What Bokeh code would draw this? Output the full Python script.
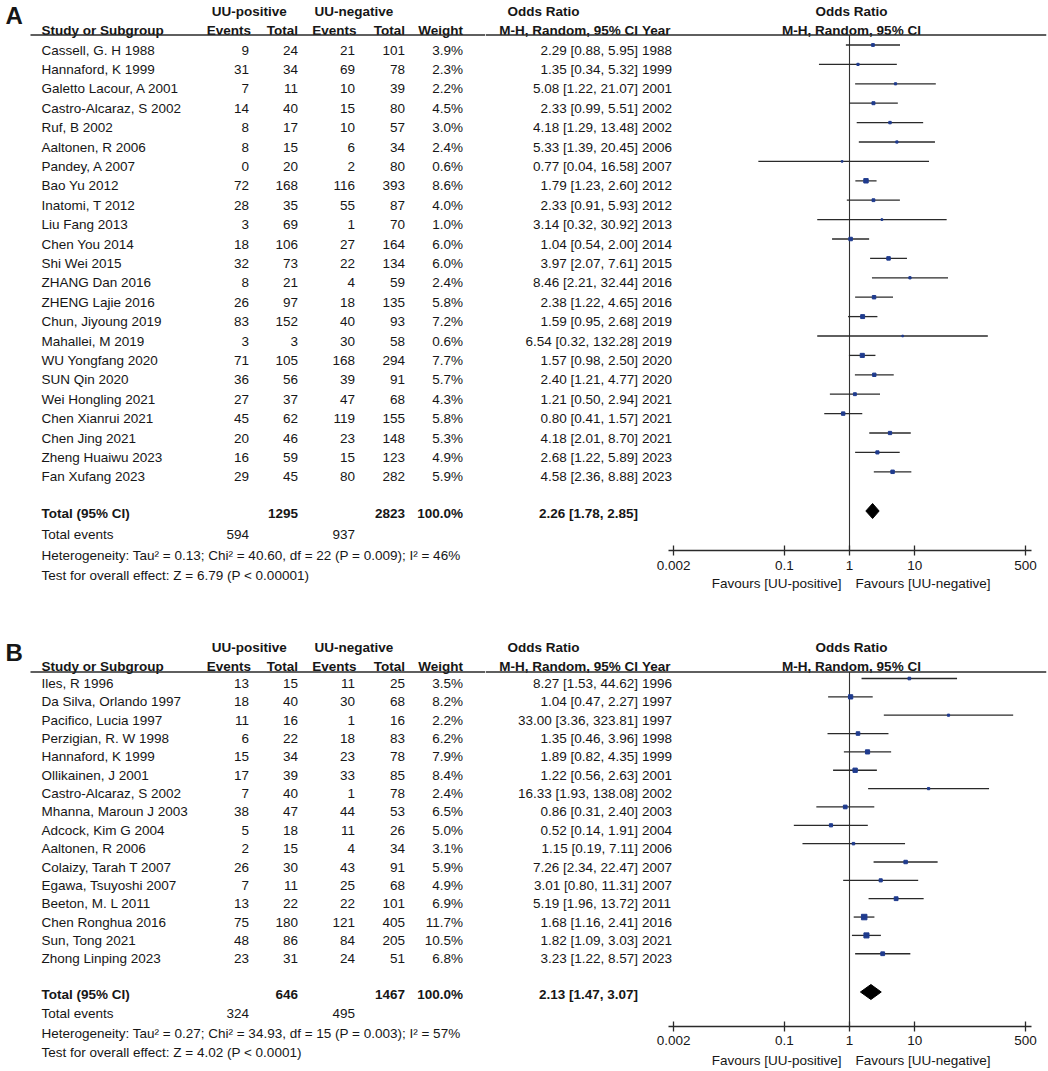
from bokeh.plotting import figure
from bokeh.models import Range1d, Span, FixedTicker, CustomJSTickFormatter, ColumnDataSource
from bokeh.layouts import row, column
from bokeh.embed import file_html
from bokeh.resources import INLINE
from bokeh.core.properties import value

# ---------------- data: panel A ----------------
studies_a = ["Cassell, G. H 1988", "Hannaford, K 1999", "Galetto Lacour, A 2001", "Castro-Alcaraz, S 2002",
             "Ruf, B 2002", "Aaltonen, R 2006", "Pandey, A 2007", "Bao Yu 2012", "Inatomi, T 2012",
             "Liu Fang 2013", "Chen You 2014", "Shi Wei 2015", "ZHANG Dan 2016", "ZHENG Lajie 2016",
             "Chun, Jiyoung 2019", "Mahallei, M 2019", "WU Yongfang 2020", "SUN Qin 2020",
             "Wei Hongling 2021", "Chen Xianrui 2021", "Chen Jing 2021", "Zheng Huaiwu 2023", "Fan Xufang 2023"]
pos_events_a = [9, 31, 7, 14, 8, 8, 0, 72, 28, 3, 18, 32, 8, 26, 83, 3, 71, 36, 27, 45, 20, 16, 29]
pos_total_a = [24, 34, 11, 40, 17, 15, 20, 168, 35, 69, 106, 73, 21, 97, 152, 3, 105, 56, 37, 62, 46, 59, 45]
neg_events_a = [21, 69, 10, 15, 10, 6, 2, 116, 55, 1, 27, 22, 4, 18, 40, 30, 168, 39, 47, 119, 23, 15, 80]
neg_total_a = [101, 78, 39, 80, 57, 34, 80, 393, 87, 70, 164, 134, 59, 135, 93, 58, 294, 91, 68, 155, 148, 123, 282]
weight_a = [3.9, 2.3, 2.2, 4.5, 3.0, 2.4, 0.6, 8.6, 4.0, 1.0, 6.0, 6.0, 2.4, 5.8, 7.2, 0.6, 7.7, 5.7, 4.3, 5.8, 5.3, 4.9, 5.9]
or_a = [2.29, 1.35, 5.08, 2.33, 4.18, 5.33, 0.77, 1.79, 2.33, 3.14, 1.04, 3.97, 8.46, 2.38, 1.59, 6.54, 1.57, 2.40, 1.21, 0.80, 4.18, 2.68, 4.58]
lo_a = [0.88, 0.34, 1.22, 0.99, 1.29, 1.39, 0.04, 1.23, 0.91, 0.32, 0.54, 2.07, 2.21, 1.22, 0.95, 0.32, 0.98, 1.21, 0.50, 0.41, 2.01, 1.22, 2.36]
hi_a = [5.95, 5.32, 21.07, 5.51, 13.48, 20.45, 16.58, 2.60, 5.93, 30.92, 2.00, 7.61, 32.44, 4.65, 2.68, 132.28, 2.50, 4.77, 2.94, 1.57, 8.70, 5.89, 8.88]
year_a = [1988, 1999, 2001, 2002, 2002, 2006, 2007, 2012, 2012, 2013, 2014, 2015, 2016, 2016, 2019, 2019, 2020, 2020, 2021, 2021, 2021, 2023, 2023]
total_pos_a, total_neg_a = 1295, 2823
events_pos_a, events_neg_a = 594, 937
pooled_a = [2.26, 1.78, 2.85]
het_a = "Heterogeneity: Tau² = 0.13; Chi² = 40.60, df = 22 (P = 0.009); I² = 46%"
test_a = "Test for overall effect: Z = 6.79 (P < 0.00001)"

# ---------------- data: panel B ----------------
studies_b = ["Iles, R 1996", "Da Silva, Orlando 1997", "Pacifico, Lucia 1997", "Perzigian, R. W 1998",
             "Hannaford, K 1999", "Ollikainen, J 2001", "Castro-Alcaraz, S 2002", "Mhanna, Maroun J 2003",
             "Adcock, Kim G 2004", "Aaltonen, R 2006", "Colaizy, Tarah T 2007", "Egawa, Tsuyoshi 2007",
             "Beeton, M. L 2011", "Chen Ronghua 2016", "Sun, Tong 2021", "Zhong Linping 2023"]
pos_events_b = [13, 18, 11, 6, 15, 17, 7, 38, 5, 2, 26, 7, 13, 75, 48, 23]
pos_total_b = [15, 40, 16, 22, 34, 39, 40, 47, 18, 15, 30, 11, 22, 180, 86, 31]
neg_events_b = [11, 30, 1, 18, 23, 33, 1, 44, 11, 4, 43, 25, 22, 121, 84, 24]
neg_total_b = [25, 68, 16, 83, 78, 85, 78, 53, 26, 34, 91, 68, 101, 405, 205, 51]
weight_b = [3.5, 8.2, 2.2, 6.2, 7.9, 8.4, 2.4, 6.5, 5.0, 3.1, 5.9, 4.9, 6.9, 11.7, 10.5, 6.8]
or_b = [8.27, 1.04, 33.00, 1.35, 1.89, 1.22, 16.33, 0.86, 0.52, 1.15, 7.26, 3.01, 5.19, 1.68, 1.82, 3.23]
lo_b = [1.53, 0.47, 3.36, 0.46, 0.82, 0.56, 1.93, 0.31, 0.14, 0.19, 2.34, 0.80, 1.96, 1.16, 1.09, 1.22]
hi_b = [44.62, 2.27, 323.81, 3.96, 4.35, 2.63, 138.08, 2.40, 1.91, 7.11, 22.47, 11.31, 13.72, 2.41, 3.03, 8.57]
year_b = [1996, 1997, 1997, 1998, 1999, 2001, 2002, 2003, 2004, 2006, 2007, 2007, 2011, 2016, 2021, 2023]
total_pos_b, total_neg_b = 646, 1467
events_pos_b, events_neg_b = 324, 495
pooled_b = [2.13, 1.47, 3.07]
het_b = "Heterogeneity: Tau² = 0.27; Chi² = 34.93, df = 15 (P = 0.003); I² = 57%"
test_b = "Test for overall effect: Z = 4.02 (P < 0.0001)"

axis_ticks = [0.002, 0.1, 1, 10, 500]
favours_left = "Favours [UU-positive]"
favours_right = "Favours [UU-negative]"

# ---------------- styling / layout ----------------
FONT = "Liberation Sans"
FS = "13.5px"
INK = "#161616"
SQ = "#1f3b8e"
LINE = "#2a2a2a"

PAGE_L, PAGE_R = 0, 1048
SPLIT_X = 485            # table / forest-figure boundary
AXIS_L, AXIS_R = 668, 1031   # OR axis line extent
FRAME_R = 1046           # right end of forest frame (header rule)
X_ONE, PX_DEC = 849.0, 65.2


def px_to_or(px):
    return 10 ** ((px - X_ONE) / PX_DEC)


OR_LO, OR_HI = px_to_or(SPLIT_X), px_to_or(FRAME_R)
AX_BOUNDS = (px_to_or(AXIS_L), px_to_or(AXIS_R))

# column anchors (page px)
X_STUDY = 41
X_EVP, X_TOTP, X_EVN, X_TOTN = 248.5, 297.5, 354.5, 404.5
X_WEIGHT = 462.5
X_CI, X_YEAR, X_OR_HDR, X_FOREST_HDR = px_to_or(637.5), px_to_or(641.5), px_to_or(543), px_to_or(851)


def no_align(p):
    try:
        p.frame_align = False
    except Exception:
        pass


def add_text(p, xs, ys, texts, align, bold=False, size=FS, x_offset=0):
    src = ColumnDataSource(dict(x=list(xs), y=list(ys), t=[str(s) for s in texts]))
    p.text(x="x", y="y", text="t", source=src, text_font=value(FONT), text_font_size=value(size),
           text_font_style=value("bold" if bold else "normal"), text_align=value(align),
           text_baseline=value("middle"), text_color=INK, x_offset=x_offset)


def build_panel(g, d):
    top, bottom, axis_y, fav_top = g["top"], g["bottom"], g["axis_y"], g["fav_top"]
    y0, dy, shift = g["y0"], g["dy"], g["shift"]

    def r(py):
        return (py - y0) / dy

    def rf(py):
        return (py - (y0 - shift)) / dy

    n = len(d["studies"])
    idx = list(range(n))
    idx_f = [rf(y0 + i * dy) for i in idx]   # text rows in forest-figure units

    # ---- table figure ----
    t = figure(width=SPLIT_X - PAGE_L, height=bottom - top,
               x_range=Range1d(PAGE_L, SPLIT_X), y_range=Range1d(r(bottom), r(top)),
               x_axis_location=None, y_axis_location=None, toolbar_location=None,
               output_backend="svg", min_border=0, outline_line_color=None)
    t.grid.visible = False
    no_align(t)

    add_text(t, [5], [r(g["letter_y"])], [d["letter"]], "left", bold=True, size="24px")
    h1, h2 = r(g["h1"]), r(g["h2"])
    add_text(t, [248.7, 353.3], [h1] * 2, ["UU-positive", "UU-negative"], "center", bold=True)
    add_text(t, [X_STUDY], [h2], ["Study or Subgroup"], "left", bold=True)
    add_text(t, [250.5, 297.5, 356, 404.5, 462.5], [h2] * 5,
             ["Events", "Total", "Events", "Total", "Weight"], "right", bold=True)
    t.segment(x0=[30], y0=[r(g["hline"])], x1=[SPLIT_X], y1=[r(g["hline"])], line_color=LINE, line_width=1.3)

    add_text(t, [X_STUDY] * n, idx, d["studies"], "left")
    add_text(t, [X_EVP] * n, idx, d["pe"], "right")
    add_text(t, [X_TOTP] * n, idx, d["pt"], "right")
    add_text(t, [X_EVN] * n, idx, d["ne"], "right")
    add_text(t, [X_TOTN] * n, idx, d["nt"], "right")
    add_text(t, [X_WEIGHT] * n, idx, [f"{w:.1f}%" for w in d["w"]], "right")

    ty = r(g["tot_y"])
    add_text(t, [X_STUDY], [ty], ["Total (95% CI)"], "left", bold=True)
    add_text(t, [X_TOTP, X_TOTN, X_WEIGHT], [ty] * 3, [d["tp"], d["tn"], "100.0%"], "right", bold=True)
    ey = r(g["ev_y"])
    add_text(t, [X_STUDY], [ey], ["Total events"], "left")
    add_text(t, [X_EVP, X_EVN], [ey, ey], [d["ep"], d["en"]], "right")
    add_text(t, [X_STUDY, X_STUDY], [r(g["het_y"]), r(g["test_y"])], [d["het"], d["test"]], "left")

    # ---- forest figure (log OR scale) ----
    xr = Range1d(OR_LO, OR_HI)
    f = figure(width=PAGE_R - SPLIT_X, height=fav_top - top, x_axis_type="log",
               x_range=xr, y_range=Range1d(rf(axis_y), rf(top)),
               y_axis_location=None, toolbar_location=None, output_backend="svg",
               min_border_left=0, min_border_top=0, min_border_right=PAGE_R - FRAME_R,
               min_border_bottom=fav_top - axis_y, outline_line_color=None)
    f.grid.visible = False
    no_align(f)

    pl = d["pooled"]
    add_text(f, [X_OR_HDR], [rf(g["h1"])], ["Odds Ratio"], "center", bold=True)
    add_text(f, [X_CI], [rf(g["h2"])], ["M-H, Random, 95% CI"], "right", bold=True)
    add_text(f, [X_YEAR], [rf(g["h2"])], ["Year"], "left", bold=True)
    add_text(f, [X_CI] * n, idx_f,
             [f"{o:.2f} [{l:.2f}, {h:.2f}]" for o, l, h in zip(d["or"], d["lo"], d["hi"])], "right")
    add_text(f, [X_YEAR] * n, idx_f, d["yr"], "left")
    add_text(f, [X_CI], [rf(g["tot_y"])], [f"{pl[0]:.2f} [{pl[1]:.2f}, {pl[2]:.2f}]"], "right", bold=True)

    add_text(f, [X_FOREST_HDR], [rf(g["h1"])], ["Odds Ratio"], "center", bold=True)
    add_text(f, [X_FOREST_HDR], [rf(g["h2"])], ["M-H, Random, 95% CI"], "center", bold=True)
    f.add_layout(Span(location=rf(g["hline"]), dimension="width", line_color=LINE, line_width=1.3))
    f.segment(x0=[1], y0=[rf(g["hline"])], x1=[1], y1=[rf(axis_y)], line_color="#333333", line_width=1.1)

    f.segment(x0=d["lo"], y0=idx, x1=d["hi"], y1=idx, line_color=LINE, line_width=1.3)
    f.scatter(x=d["or"], y=idx, marker="square", size=[1.4 + 0.35 * w for w in d["w"]],
              fill_color=SQ, line_color=SQ)

    dyy = rf(g["tot_y"] - 2.5)
    hh = 7.5 / dy
    f.patch(x=[pl[1], pl[0], pl[2], pl[0]], y=[dyy, dyy - hh, dyy, dyy + hh],
            fill_color="black", line_color="black")

    ax = f.xaxis[0]
    ax.bounds = AX_BOUNDS
    ax.ticker = FixedTicker(ticks=axis_ticks, minor_ticks=[])
    ax.formatter = CustomJSTickFormatter(code="return tick.toString();")
    ax.axis_line_color = LINE
    ax.axis_line_width = 1.3
    ax.major_tick_line_color = LINE
    ax.major_tick_line_width = 1.3
    ax.major_tick_in = 5
    ax.major_tick_out = 5
    ax.minor_tick_line_color = None
    ax.major_label_text_font = FONT
    ax.major_label_text_font_size = FS
    ax.major_label_text_color = INK
    ax.major_label_standoff = g["lab_standoff"]

    # ---- "Favours" strip under the axis (shares the OR scale) ----
    fh = bottom - fav_top
    fav = figure(width=PAGE_R - SPLIT_X, height=fh, x_axis_type="log", x_range=xr,
                 y_range=Range1d(0, fh), x_axis_location=None, y_axis_location=None,
                 toolbar_location=None, output_backend="svg", min_border_left=0, min_border_top=0,
                 min_border_bottom=0, min_border_right=PAGE_R - FRAME_R, outline_line_color=None)
    fav.grid.visible = False
    no_align(fav)
    fy = fh - (g["fav_y"] - fav_top)
    add_text(fav, [1], [fy], [favours_left], "right", x_offset=-8)
    add_text(fav, [1], [fy], [favours_right], "left", x_offset=6)

    return row(t, column(f, fav, spacing=0), spacing=0)


geom_a = dict(top=0, bottom=615, axis_y=550, fav_top=576, y0=49.5, dy=19.4, shift=5, letter_y=15,
              h1=10.5, h2=29.5, hline=34.5, tot_y=513, ev_y=534, het_y=554.5, test_y=574.5,
              lab_standoff=5, fav_y=582.5)
geom_b = dict(top=615, bottom=1071, axis_y=1026, fav_top=1051, y0=683, dy=18.35, shift=5, letter_y=652,
              h1=647, h2=665.5, hline=671.5, tot_y=994, ev_y=1013, het_y=1032.5, test_y=1051.5,
              lab_standoff=4, fav_y=1060)

data_a = dict(letter="A", studies=studies_a, pe=pos_events_a, pt=pos_total_a, ne=neg_events_a, nt=neg_total_a,
              w=weight_a, lo=lo_a, hi=hi_a, yr=year_a, tp=total_pos_a, tn=total_neg_a,
              ep=events_pos_a, en=events_neg_a, pooled=pooled_a, het=het_a, test=test_a)
data_a["or"] = or_a
data_b = dict(letter="B", studies=studies_b, pe=pos_events_b, pt=pos_total_b, ne=neg_events_b, nt=neg_total_b,
              w=weight_b, lo=lo_b, hi=hi_b, yr=year_b, tp=total_pos_b, tn=total_neg_b,
              ep=events_pos_b, en=events_neg_b, pooled=pooled_b, het=het_b, test=test_b)
data_b["or"] = or_b

layout = column(build_panel(geom_a, data_a), build_panel(geom_b, data_b), spacing=0)

open("out.html", "w").write(file_html(layout, INLINE))
